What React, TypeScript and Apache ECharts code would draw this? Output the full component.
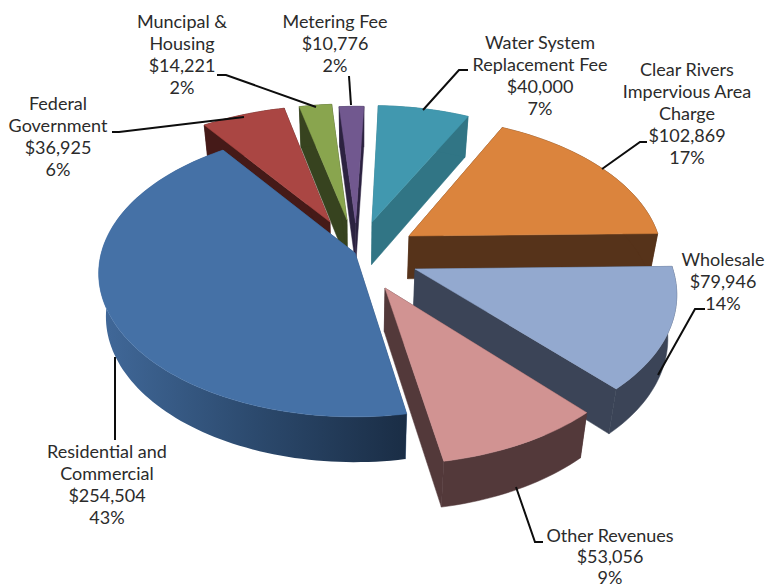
import React, { useEffect, useRef } from "react";
import * as echarts from "echarts";

const names = [
  "Residential and\nCommercial",
  "Federal\nGovernment",
  "Muncipal &\nHousing",
  "Metering Fee",
  "Water System\nReplacement Fee",
  "Clear Rivers\nImpervious Area\nCharge",
  "Wholesale",
  "Other Revenues",
];
const revenues = [254504, 36925, 14221, 10776, 40000, 102869, 79946, 53056];
const percents = [43, 6, 2, 2, 7, 17, 14, 9];

const topColors = ["#4571A6", "#AA4643", "#89A54E", "#71588F", "#4198AF", "#DB843D", "#93A9CF", "#D19392"];
const wallColors = ["#2E4D73", "#451A18", "#37431F", "#2C2240", "#317585", "#56331A", "#3B4457", "#53393A"];
// painter's order (back to front)
const paintRank = [7, 2, 1, 0, 3, 4, 5, 6];
// screen position of each slice's apex (explosion offsets)
const apexes = [[355, 253], [330, 222], [347, 220], [355.6, 223], [372, 222], [409, 236], [415, 269], [385, 288]];
const labelPos = [[107, 440], [58, 92], [182, 10], [335, 10], [540, 31], [687, 58], [723, 248], [610, 524]];
const labelLineHeights = [22, 22, 22, 22, 22, 22, 22, 21];
const leaders = [
  [[115, 357], [115, 440]],
  [[112, 132], [119, 132], [244, 117]],
  [[217, 75], [226, 75], [316, 107]],
  [[349, 76], [351, 105]],
  [[423, 110], [459, 70], [468, 70]],
  [[602, 169], [640, 142], [647, 142]],
  [[658, 375], [695, 309], [705, 309]],
  [[516, 487], [535, 542], [543, 542]],
];

const CX = 358, CY = 250, K = 253, L = 140, P = 0.14;
const START_DEG = 169.8;
const DEPTH = 43;
const BOTTOM_SHRINK = 0.972;

const total = revenues.reduce((a, b) => a + b, 0);

function project(X: number, Y: number): number[] {
  const d = 1 - P * Y;
  return [CX + (K * X) / d, CY + (L * Y) / d];
}
function unproject(sx: number, sy: number): number[] {
  const dy = sy - CY;
  const Y = dy / (L + P * dy);
  return [((sx - CX) * (1 - P * Y)) / K, Y];
}
function lower(p: number[], Y: number): number[] {
  return [CX + (p[0] - CX) * BOTTOM_SHRINK, p[1] + DEPTH / (1 - 0.05 * Y)];
}

function renderSlice(params: any, api: any) {
  const i = params.dataIndex;
  const value = api.value(0);
  const before = revenues.slice(0, i).reduce((a, b) => a + b, 0);
  const a0 = START_DEG + (before / total) * 360;
  const a1 = a0 + (value / total) * 360;
  const [ox, oy] = unproject(apexes[i][0], apexes[i][1]);
  const steps = Math.max(4, Math.ceil((a1 - a0) / 1.5));
  const arcTop: number[][] = [];
  const arcBot: number[][] = [];
  for (let s = 0; s <= steps; s++) {
    const t = ((a0 + ((a1 - a0) * s) / steps) * Math.PI) / 180;
    const X = ox + Math.sin(t);
    const Y = oy - Math.cos(t);
    const p = project(X, Y);
    arcTop.push(p);
    arcBot.push(lower(p, Y));
  }
  const apexTop = project(ox, oy);
  const apexBot = lower(apexTop, oy);
  const wall = wallColors[i];
  const z = paintRank[i] * 5;
  const poly = (points: number[][], fill: any, zz: number) => ({
    type: "polygon",
    z2: z + zz,
    silent: true,
    shape: { points },
    style: { fill, stroke: typeof fill === "string" ? fill : "none", lineWidth: 0.5 },
  });
  const outerFill =
    i === 0
      ? new echarts.graphic.LinearGradient(0, 0, 1, 0, [
          { offset: 0, color: "#41699A" },
          { offset: 0.5, color: "#2C4A6E" },
          { offset: 1, color: "#1A2D45" },
        ])
      : wall;
  return {
    type: "group",
    children: [
      poly([apexTop, arcTop[0], arcBot[0], apexBot], wall, 0),
      poly([apexTop, arcTop[steps], arcBot[steps], apexBot], wall, 0),
      poly([...arcTop, ...arcBot.slice().reverse()], outerFill, 1),
      poly([apexTop, ...arcTop], topColors[i], 2),
    ],
  };
}

export default function App() {
  const ref = useRef<HTMLDivElement>(null);
  useEffect(() => {
    const chart = echarts.init(ref.current!, undefined, { renderer: "svg" });
    chart.setOption({
      animation: false,
      backgroundColor: "#ffffff",
      series: [
        {
          type: "custom",
          coordinateSystem: "none",
          silent: true,
          data: revenues.map((v) => [v]),
          renderItem: renderSlice,
        },
      ],
      graphic: [
        ...leaders.map((pts) => ({
          type: "polyline",
          silent: true,
          z: 20,
          shape: { points: pts },
          style: { stroke: "#0d0d0d", lineWidth: 2, fill: "none" },
        })),
        ...names.map((n, i) => ({
          type: "text",
          silent: true,
          z: 21,
          x: labelPos[i][0],
          y: labelPos[i][1],
          style: {
            text: `${n}\n$${revenues[i].toLocaleString("en-US")}\n${percents[i]}%`,
            font: "18px Lato",
            lineHeight: labelLineHeights[i],
            align: "center",
            verticalAlign: "top",
            fill: "#2b2b2b",
          },
        })),
      ],
    });
    return () => chart.dispose();
  }, []);
  return <div ref={ref} style={{ position: "fixed", left: 0, top: 0, width: 767, height: 587 }} />;
}
